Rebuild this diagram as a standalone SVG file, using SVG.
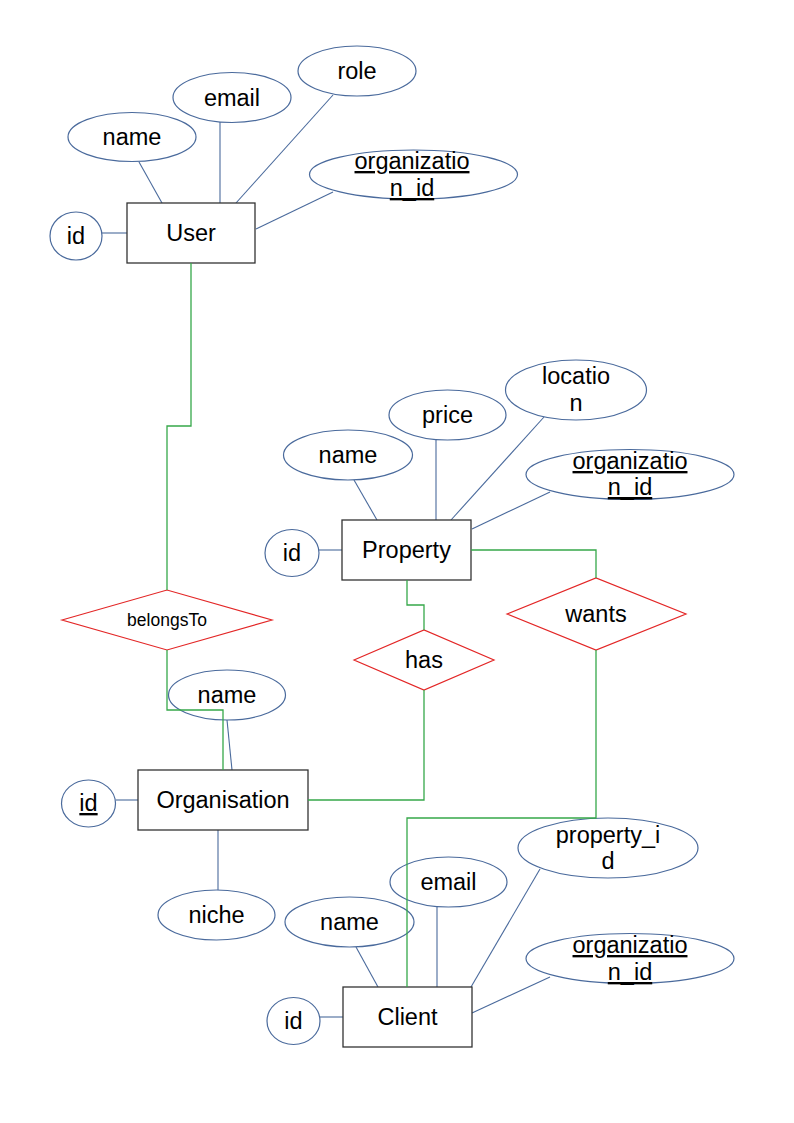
<svg xmlns="http://www.w3.org/2000/svg" width="794" height="1123" viewBox="0 0 794 1123">
<style>
.bg{fill:#ffffff}
.ent{fill:#ffffff;stroke:#333333;stroke-width:1.3}
.att{fill:#ffffff;stroke:#4a6a9c;stroke-width:1.2}
.rel{fill:#ffffff;stroke:#e32626;stroke-width:1.2}
.al{stroke:#4a6a9c;stroke-width:1.1;fill:none}
.gl{stroke:#36a84a;stroke-width:1.3;fill:none}
text{font-family:"Liberation Sans",Arial,sans-serif;font-size:23.5px;fill:#000000;text-anchor:middle}
.sm{font-size:17.5px}
.u{text-decoration:underline}
</style>
<rect class="bg" x="0" y="0" width="794" height="1123"/>
<g id="attribute-connectors">
<line class="al" x1="102" y1="233" x2="127" y2="233"/>
<line class="al" x1="139" y1="162" x2="162" y2="203"/>
<line class="al" x1="220" y1="122" x2="220" y2="203"/>
<line class="al" x1="333" y1="95" x2="236" y2="203"/>
<line class="al" x1="333" y1="192" x2="256" y2="229"/>
<line class="al" x1="319" y1="550" x2="342" y2="550"/>
<line class="al" x1="354" y1="480" x2="377" y2="520"/>
<line class="al" x1="436" y1="440" x2="436" y2="520"/>
<line class="al" x1="544" y1="417" x2="451" y2="520"/>
<line class="al" x1="550" y1="492" x2="472" y2="529"/>
<line class="al" x1="116" y1="800" x2="138" y2="800"/>
<line class="al" x1="227" y1="720" x2="232" y2="770"/>
<line class="al" x1="218" y1="830" x2="218" y2="890"/>
<line class="al" x1="320" y1="1017" x2="343" y2="1017"/>
<line class="al" x1="356" y1="947" x2="378" y2="987"/>
<line class="al" x1="437" y1="907" x2="437" y2="987"/>
<line class="al" x1="540" y1="869" x2="471" y2="987"/>
<line class="al" x1="550" y1="977" x2="472" y2="1013"/>
</g>
<g id="user">
<rect class="ent" x="127" y="203" width="128" height="60"/>
<text x="191" y="241">User</text>
</g>
<g id="user_id"><ellipse class="att" cx="76" cy="236" rx="26" ry="24"/><text x="76" y="244">id</text></g>
<g id="user_name"><ellipse class="att" cx="132" cy="137" rx="64" ry="24.5"/><text x="132" y="145">name</text></g>
<g id="user_email"><ellipse class="att" cx="232" cy="97.5" rx="59" ry="25"/><text x="232" y="106">email</text></g>
<g id="user_role"><ellipse class="att" cx="357" cy="71" rx="59" ry="25"/><text x="357" y="79">role</text></g>
<g id="user_org"><ellipse class="att" cx="413.5" cy="174.5" rx="104" ry="24.5"/><text class="u" x="412" y="169">organizatio</text><text class="u" x="412" y="196">n_id</text></g>

<g id="property">
<rect class="ent" x="342" y="520" width="129" height="60"/>
<text x="406.5" y="558">Property</text>
</g>
<g id="prop_id"><ellipse class="att" cx="292" cy="553" rx="27" ry="23.5"/><text x="292" y="561">id</text></g>
<g id="prop_name"><ellipse class="att" cx="348" cy="455" rx="64.5" ry="25"/><text x="348" y="463">name</text></g>
<g id="prop_price"><ellipse class="att" cx="447.5" cy="415" rx="58.5" ry="25"/><text x="447.5" y="423">price</text></g>
<g id="prop_location"><ellipse class="att" cx="576" cy="390" rx="70.5" ry="30"/><text x="576" y="384">locatio</text><text x="576" y="411">n</text></g>
<g id="prop_org"><ellipse class="att" cx="630" cy="474.5" rx="104" ry="25"/><text class="u" x="630" y="469">organizatio</text><text class="u" x="630" y="495">n_id</text></g>

<g id="belongsTo"><polygon class="rel" points="62,620 167,590 272,620 167,650"/><text class="sm" x="167" y="626">belongsTo</text></g>
<g id="has"><polygon class="rel" points="354,660 424,630 494,660 424,690"/><text x="424" y="668">has</text></g>
<g id="wants"><polygon class="rel" points="507,614 596,578 686,614 596,650"/><text x="596" y="622">wants</text></g>

<g id="organisation">
<rect class="ent" x="138" y="770" width="170" height="60"/>
<text x="223" y="808">Organisation</text>
</g>
<g id="org_id"><ellipse class="att" cx="88.5" cy="803.5" rx="27" ry="23.5"/><text class="u" x="88.5" y="811">id</text></g>
<g id="org_name"><ellipse class="att" cx="227" cy="695" rx="58.5" ry="25"/><text x="227" y="703">name</text></g>
<g id="org_niche"><ellipse class="att" cx="216.5" cy="915" rx="58.5" ry="25"/><text x="216.5" y="923">niche</text></g>

<g id="client">
<rect class="ent" x="343" y="987" width="129" height="60"/>
<text x="407.5" y="1025">Client</text>
</g>
<g id="client_id"><ellipse class="att" cx="293.5" cy="1021" rx="26.5" ry="23.5"/><text x="293.5" y="1029">id</text></g>
<g id="client_name"><ellipse class="att" cx="349.5" cy="922" rx="64.5" ry="25"/><text x="349.5" y="930">name</text></g>
<g id="client_email"><ellipse class="att" cx="448.5" cy="882" rx="58.5" ry="25"/><text x="448.5" y="890">email</text></g>
<g id="client_prop"><ellipse class="att" cx="608" cy="848" rx="90" ry="30"/><text x="608" y="843">property_i</text><text x="608" y="869">d</text></g>
<g id="client_org"><ellipse class="att" cx="630" cy="958.5" rx="104" ry="25"/><text class="u" x="630" y="953">organizatio</text><text class="u" x="630" y="980">n_id</text></g>

<g id="relationship-connectors">
<polyline class="gl" points="191,263 191,426 167,426 167,590"/>
<polyline class="gl" points="167,650 167,710 223,710 223,770"/>
<polyline class="gl" points="407,580 407,605 424,605 424,630"/>
<polyline class="gl" points="424,690 424,800 308,800"/>
<polyline class="gl" points="471,550 596,550 596,578"/>
<polyline class="gl" points="596,650 596,818 407,818 407,987"/>
</g>
</svg>
